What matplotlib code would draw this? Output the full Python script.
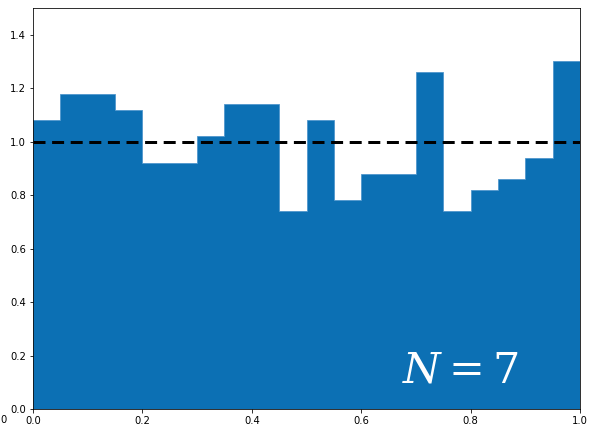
import numpy as np
import matplotlib
matplotlib.use("Agg")
import matplotlib.pyplot as plt

plt.rcParams["mathtext.fontset"] = "dejavuserif"

# bin edges and density heights
bin_edges = np.linspace(0.0, 1.0, 21)
heights = [1.08, 1.18, 1.18, 1.12, 0.92, 0.92, 1.02, 1.14, 1.14, 0.74,
           1.08, 0.78, 0.88, 0.88, 1.26, 0.74, 0.82, 0.86, 0.94, 1.30]
ref_level = 1.0
label = r"$N = 7$"

fig = plt.figure(figsize=(590 / 72, 425 / 72), dpi=72)
ax = fig.add_axes([33 / 590, 16 / 425, 547 / 590, 401 / 425])

centers = (bin_edges[:-1] + bin_edges[1:]) / 2
ax.hist(centers, bins=bin_edges, weights=heights, histtype="stepfilled",
        facecolor="#0c70b4", edgecolor="#4d95cc", linewidth=0.8)
ax.axhline(ref_level, color="black", linestyle="--", linewidth=3,
           dashes=(4, 2.2))

ax.text(0.675, 0.1, label, color="white", fontsize=43,
        ha="left", va="baseline")

ax.set_xlim(0, 1)
ax.set_ylim(0, 1.5)
ax.set_xticks([0.0, 0.2, 0.4, 0.6, 0.8, 1.0])
ax.set_yticks([0.0, 0.2, 0.4, 0.6, 0.8, 1.0, 1.2, 1.4])
ax.tick_params(labelsize=10)

# leftover label at the figure's left edge, kept inside the canvas
fig.text(0.0, 0.0, "0", fontsize=10, ha="left", va="bottom")

fig.savefig("out.png", dpi=72)
